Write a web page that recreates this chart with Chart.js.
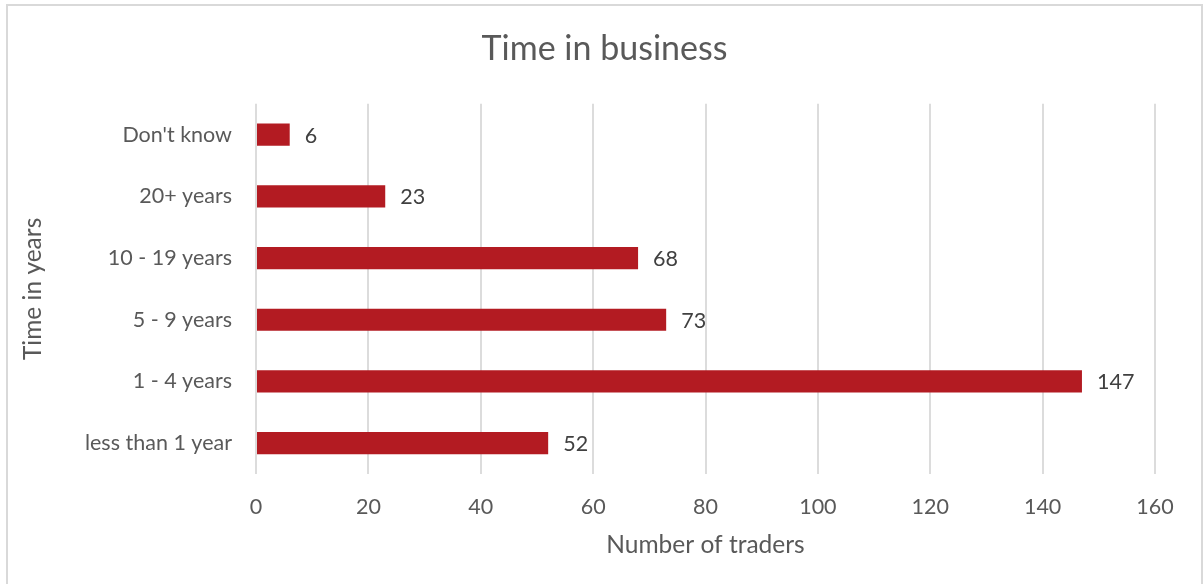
<!DOCTYPE html>
<html>
<head>
<meta charset="utf-8">
<script src="https://cdn.jsdelivr.net/npm/chart.js@4"></script>
<style>
  html, body { margin: 0; padding: 0; background: #fff; overflow: hidden; }
  #frame {
    position: absolute;
    left: 6px;
    top: 4px;
    width: 1193px;
    height: 590px;
    border: 2px solid #d9d9d9;
  }
  #chart { display: block; }
</style>
</head>
<body>
<div id="frame">
  <canvas id="chart" width="1193" height="578"></canvas>
</div>
<script>
const categories = ["Don't know", '20+ years', '10 - 19 years', '5 - 9 years', '1 - 4 years', 'less than 1 year'];
const traders = [6, 23, 68, 73, 147, 52];
const xTicks = [0, 20, 40, 60, 80, 100, 120, 140, 160];

const fontName = 'Lato';
const grey = '#595959';
const tickSize = 21.5;

Chart.defaults.font.family = fontName;

new Chart(document.getElementById('chart'), {
  type: 'bar',
  data: {
    labels: categories,
    datasets: [{
      label: 'Number of traders',
      data: traders,
      backgroundColor: '#b31b22',
      borderWidth: 0,
      categoryPercentage: 1,
      barPercentage: 0.36
    }]
  },
  options: {
    indexAxis: 'y',
    animation: false,
    responsive: false,
    layout: { padding: 0 },
    plugins: {
      legend: { display: false },
      tooltip: { enabled: false },
      title: {
        display: true,
        text: 'Time in business',
        color: grey,
        font: { size: 34, weight: 'normal' },
        padding: { top: 23, bottom: 34 }
      }
    },
    scales: {
      x: {
        min: 0,
        max: 160,
        afterBuildTicks(scale) {
          scale.ticks = xTicks.map(v => ({ value: v }));
        },
        afterFit(scale) {
          scale.height = 110;
          // keep the plot's right edge clear of the frame, title stays centred
          scale.paddingRight = 46;
        },
        grid: {
          color: '#dcdcdc',
          lineWidth: 2,
          drawTicks: false
        },
        border: { display: false },
        ticks: {
          color: grey,
          font: { size: tickSize },
          padding: 20,
          maxRotation: 0
        },
        title: {
          display: true,
          text: 'Number of traders',
          color: grey,
          font: { size: 24.5 },
          padding: { top: 0, bottom: 24 }
        }
      },
      y: {
        afterFit(scale) {
          scale.width = 248;
        },
        grid: { display: false, drawTicks: false },
        border: { display: false },
        ticks: {
          color: grey,
          font: { size: tickSize },
          padding: 24
        },
        title: {
          display: true,
          text: 'Time in years',
          color: grey,
          font: { size: 24.5 },
          padding: { top: 10, bottom: 0 }
        }
      }
    }
  },
  plugins: [{
    id: 'valueLabels',
    afterDatasetsDraw(chart) {
      const { ctx, data } = chart;
      const meta = chart.getDatasetMeta(0);
      ctx.save();
      ctx.font = tickSize + 'px ' + fontName;
      ctx.fillStyle = '#404040';
      ctx.textAlign = 'left';
      ctx.textBaseline = 'middle';
      meta.data.forEach((bar, i) => {
        ctx.fillText(String(data.datasets[0].data[i]), bar.x + 15, bar.y + 1);
      });
      ctx.restore();
    }
  }]
});
</script>
</body>
</html>
